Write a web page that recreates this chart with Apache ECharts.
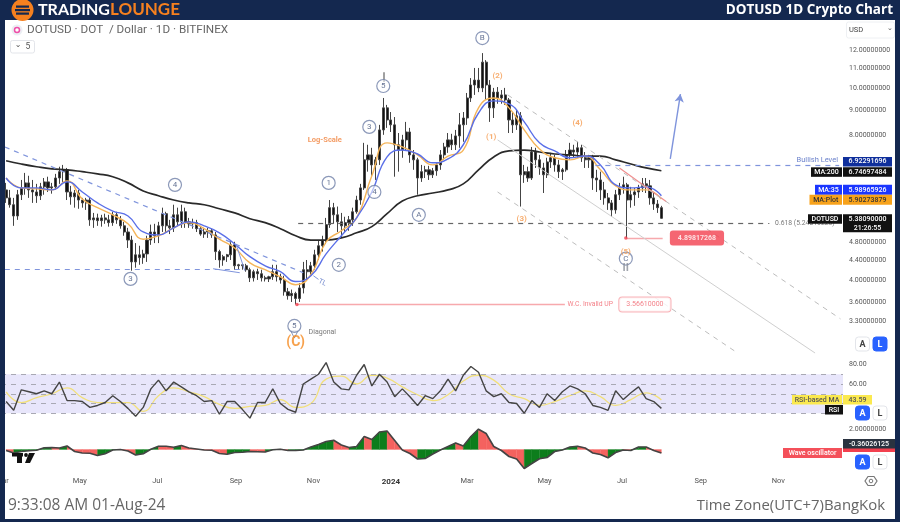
<!DOCTYPE html>
<html>
<head>
<meta charset="utf-8">
<title>DOTUSD 1D Crypto Chart</title>
<script src="https://cdn.jsdelivr.net/npm/echarts@6/dist/echarts.min.js"></script>
<style>
  html, body { margin: 0; padding: 0; background: #fff; }
  #chart { width: 900px; height: 522px; filter: blur(0.35px); }
</style>
</head>
<body>
<div id="chart"></div>
<script>
// 3-day candles, newest last: [open, high, low, close]
const candles = [
  [6.16,6.37,5.79,5.93],[5.93,6.16,5.66,5.74],[5.74,5.93,5.19,5.44],[5.44,6.16,5.34,6.02],[6.02,6.46,5.87,6.22],
  [6.22,6.68,6.02,6.37],[6.37,6.59,5.93,6.16],[6.16,6.46,5.79,6.10],[6.10,6.34,5.79,5.99],[5.99,6.37,5.87,6.25],
  [6.25,6.52,6.02,6.40],[6.40,6.56,6.10,6.22],[6.22,6.37,6.05,6.25],[6.25,6.65,6.16,6.52],[6.52,6.88,6.34,6.72],
  [6.72,6.94,6.40,6.78],[6.78,6.84,5.87,6.10],[6.10,6.28,5.74,5.96],[5.96,6.16,5.66,6.07],[6.07,6.16,5.63,5.87],
  [5.87,5.93,5.66,5.79],[5.79,5.93,5.60,5.87],[5.87,5.93,5.19,5.34],[5.34,5.52,5.14,5.39],[5.39,5.50,5.19,5.32],
  [5.32,5.47,5.17,5.39],[5.39,5.50,5.24,5.34],[5.34,5.47,5.17,5.27],[5.27,5.55,5.19,5.47],[5.47,5.55,5.24,5.34],
  [5.34,5.44,5.12,5.19],[5.19,5.29,4.95,5.04],[5.04,5.14,4.67,4.85],[4.85,4.95,4.19,4.37],[4.37,4.78,4.25,4.52],
  [4.52,4.72,4.31,4.46],[4.46,4.63,4.33,4.54],[4.54,4.95,4.37,4.85],[4.85,5.22,4.74,5.04],[5.04,5.24,4.78,4.95],
  [4.95,5.29,4.78,5.19],[5.19,5.66,5.04,5.50],[5.50,5.55,5.04,5.19],[5.19,5.34,4.99,5.14],[5.14,5.74,5.04,5.47],
  [5.47,5.66,5.19,5.29],[5.29,5.74,5.14,5.55],[5.55,5.66,5.14,5.29],[5.29,5.39,5.14,5.24],[5.24,5.37,5.12,5.27],
  [5.27,5.34,5.04,5.12],[5.12,5.19,4.95,4.99],[4.99,5.14,4.90,5.04],[5.04,5.14,4.90,5.07],[5.07,5.12,4.90,4.97],
  [4.97,5.04,4.41,4.59],[4.59,4.63,4.25,4.41],[4.41,4.52,4.29,4.48],[4.48,4.54,4.37,4.52],[4.52,4.85,4.41,4.74],
  [4.74,4.81,4.21,4.29],[4.29,4.33,4.21,4.31],[4.31,4.33,4.21,4.29],[4.29,4.33,4.17,4.21],[4.21,4.25,3.97,4.05],
  [4.05,4.21,3.98,4.17],[4.17,4.23,4.01,4.13],[4.13,4.21,3.98,4.05],[4.05,4.09,3.98,4.03],[4.03,4.09,3.97,4.07],
  [4.07,4.31,4.01,4.17],[4.17,4.31,3.98,4.07],[4.07,4.13,3.94,4.01],[4.01,4.09,3.72,3.79],[3.79,3.86,3.65,3.72],
  [3.72,3.83,3.61,3.76],[3.76,3.79,3.57,3.67],[3.67,3.95,3.61,3.86],[3.86,4.37,3.76,4.21],[4.21,4.41,4.01,4.17],
  [4.17,4.37,4.09,4.29],[4.29,4.63,4.21,4.52],[4.52,4.85,4.41,4.72],[4.72,4.95,4.59,4.85],[4.85,5.39,4.76,5.22],
  [5.22,5.87,5.14,5.66],[5.66,5.79,5.24,5.47],[5.47,5.69,5.04,5.29],[5.29,5.52,4.90,5.19],[5.19,5.42,5.04,5.27],
  [5.27,5.44,5.07,5.34],[5.34,5.66,5.19,5.55],[5.55,5.99,5.50,5.87],[5.87,6.34,5.74,6.22],[6.22,7.71,6.16,7.11],
  [7.11,7.64,6.72,7.28],[7.28,7.53,6.59,6.94],[6.94,7.21,6.46,7.11],[7.11,8.40,6.94,8.20],[8.20,9.55,8.01,9.11],
  [9.11,9.24,8.28,8.60],[8.60,8.93,8.12,8.40],[8.40,8.72,6.56,7.64],[7.64,8.08,6.72,7.45],[7.45,8.01,7.18,7.82],
  [7.82,8.52,7.45,8.12],[8.12,8.28,7.01,7.28],[7.28,7.45,6.78,7.11],[7.11,7.18,6.02,6.52],[6.52,6.94,6.40,6.72],
  [6.72,6.91,6.52,6.78],[6.78,6.91,6.46,6.62],[6.62,6.84,6.52,6.75],[6.75,7.01,6.59,6.94],[6.94,7.45,6.78,7.28],
  [7.28,7.71,7.11,7.56],[7.56,8.08,7.35,7.82],[7.82,8.05,7.45,7.64],[7.64,8.20,7.45,7.97],[7.97,8.89,7.53,8.40],
  [8.40,8.93,7.75,8.68],[8.68,9.78,8.40,9.55],[9.55,10.50,9.37,10.16],[10.16,11.02,9.69,10.40],[10.40,11.02,9.82,10.02],
  [10.02,11.83,9.82,11.33],[11.33,11.44,9.46,10.16],[10.16,10.40,8.52,9.11],[9.11,10.02,8.68,9.82],[9.82,10.06,9.29,9.55],
  [9.55,9.92,9.29,9.69],[9.69,10.02,9.24,9.46],[9.46,9.55,8.08,8.60],[8.60,8.93,8.08,8.40],[8.40,9.02,8.20,8.77],
  [8.77,8.93,5.69,6.62],[6.62,6.94,6.37,6.72],[6.72,6.88,6.40,6.52],[6.52,7.56,6.46,7.38],[7.38,7.53,6.84,7.11],
  [7.11,7.28,6.62,6.84],[6.84,7.01,6.07,6.62],[6.62,7.18,6.52,7.04],[7.04,7.35,6.84,7.18],[7.18,7.28,6.72,6.94],
  [6.94,7.11,6.52,6.72],[6.72,6.84,6.46,6.78],[6.78,7.45,6.72,7.28],[7.28,7.71,7.11,7.45],[7.45,7.64,7.18,7.38],
  [7.38,7.75,7.18,7.53],[7.53,7.64,7.04,7.18],[7.18,7.38,6.84,7.11],[7.11,7.28,6.84,7.18],[7.18,7.28,6.16,6.52],
  [6.52,6.78,6.10,6.46],[6.46,6.72,5.87,6.16],[6.16,6.40,5.74,5.93],[5.93,6.07,5.60,5.79],[5.79,5.87,5.42,5.60],
  [5.60,6.16,5.50,6.02],[6.02,6.37,5.87,6.22],[6.22,6.56,6.05,6.31],[6.31,6.37,4.898,5.87],[5.87,6.25,5.66,6.02],
  [6.02,6.22,5.71,6.10],[6.10,6.31,5.93,6.22],[6.22,6.52,6.10,6.34],[6.34,6.52,6.07,6.28],[6.28,6.46,5.74,5.93],
  [5.93,6.07,5.60,5.76],[5.76,5.87,5.52,5.66],[5.66,5.71,5.37,5.38]
];

// moving averages, one value every 12 days
const ma200 = [7.08,6.97,6.88,6.81,6.78,6.72,6.65,6.56,6.37,6.13,5.99,5.87,5.79,5.74,5.63,5.52,5.37,5.27,5.12,4.95,4.85,4.85,4.90,5.02,5.17,5.50,5.84,5.99,6.07,6.16,6.34,6.78,7.21,7.42,7.45,7.38,7.31,7.28,7.24,7.24,7.11,6.97,6.84,6.75];
const ma35 = [6.52,6.22,6.22,6.16,6.40,6.10,5.79,5.57,5.44,5.04,4.97,5.14,5.29,5.19,5.02,4.76,4.48,4.29,4.17,3.98,4.09,4.54,4.95,5.39,6.10,7.21,7.45,7.31,7.01,7.14,7.64,8.89,9.42,9.29,8.52,7.71,7.42,7.18,7.24,6.94,6.31,6.22,6.25,5.99];
const maPlot = [6.52,6.22,6.19,6.16,6.43,5.90,5.66,5.47,5.24,4.87,4.95,5.14,5.27,5.12,4.87,4.67,4.35,4.21,4.07,3.92,4.11,4.81,5.07,5.39,6.59,7.71,7.56,7.28,6.94,7.24,7.45,9.11,9.55,9.11,8.20,7.49,7.18,7.11,7.24,6.78,6.28,6.16,6.16,5.90];

// RSI and wave oscillator, one value every 6 days
const rsi = [42,33,54,52,50,53,50,62,43,43,42,36,38,41,48,42,35,27,36,55,64,53,62,57,52,48,42,43,29,42,42,34,25,41,41,55,40,34,31,
  60,65,70,82,62,55,54,69,80,58,70,62,47,55,47,38,48,45,53,65,53,69,78,72,53,47,50,41,40,30,43,36,50,43,52,58,55,50,38,
  36,33,53,44,51,57,45,42,35];
const rsiMa = [52,41,46,50,56,46,41,41,41,32,48,56,52,47,39,35,37,38,44,36,40,65,68,60,69,66,57,49,43,49,63,69,64,50,45,38,42,48,53,47,38,44,51,43.59];
const wave = [-.1,-.35,-.2,-.12,-.08,.17,.2,.15,.35,-.2,-.35,-.37,-.6,-.42,-.05,0,-.15,-.55,-.43,.03,.33,.32,.22,.4,.15,.05,-.05,-.08,-.4,-.48,-.3,-.27,-.2,-.22,-.25,-.03,.03,-.1,-.1,
  -.05,.25,.5,.8,.92,.45,.2,.3,1.3,1,1.75,1.85,.9,-.05,-.4,-.95,-.9,-.45,-.05,.3,.65,.35,1.3,2.03,1.6,.3,-.1,-.7,-.95,-1.9,-1.4,-.93,-.8,-.2,-.05,.25,.33,.15,-.35,
  -.5,-.83,-.3,-.05,-.1,.25,.25,-.1,-.36];

// the x axis counts days from 2024-01-01
const lastDay = 213; // 2024-08-01
const priceTicks = [12, 11, 10, 9, 8, 4.8, 4.4, 4, 3.6, 3.3];
const rsiTicks = [80, 60];
const waveTicks = [2];
const rsiLevels = [70, 60, 50, 40, 30];
const monthDays = [-306, -245, -184, -122, -61, 0, 60, 121, 182, 244, 305];
const monthNames = ['Mar', 'May', 'Jul', 'Sep', 'Nov', '2024', 'Mar', 'May', 'Jul', 'Sep', 'Nov'];

// elliott wave counts: day, price, text
const waveCircleDays = [-49, -41, -17, -13, -6, 72, 22, -205, -170, -76, 185];
const waveCirclePrices = [6.37, 4.31, 8.32, 6.10, 10.11, 12.71, 5.47, 4.03, 6.31, 3.22, 4.44];
const waveCircleNames = ['1', '2', '3', '4', '5', 'B', 'A', '3', '4', '5', 'C'];
const orangeDays = [79, 84, 103, 147, 185];
const orangePrices = [7.93, 10.6, 5.37, 8.48, 4.58];
const orangeNames = ['(1)', '(2)', '(3)', '(4)', '(5)'];

// drawn levels and channels: [day, price, day, price]
const trendLine = [-304, 7.56, -69, 4.15];
const supportLine = [-304, 4.21, -119, 4.21];
const triangleLines = [[-140, 4.23, -119, 4.15], [-122, 4.76, -115, 4.19]];
const tlStub = [-61, 4.09, -57, 4.02];
const fibLevel = [-73, 5.24316226, 298, 5.24316226];
const bullishLevel = [161, 6.92291696, 353, 6.92291696];
const invalidLevel = [-74, 3.5661, 137, 3.5661];
const lowLevel = [185, 4.89817268, 214, 4.89817268];
const redTrend = [180, 6.84, 217, 5.82];
const channelMid = [84, 7.82, 334, 2.83];
const channelTop = [92, 9.69, 354, 3.33];
const channelLow = [84, 6.10, 273, 2.83];
const arrowLine = [220, 7.14, 228, 9.73];
const markerBar = [-6, 10.8, -6, 10.3];

const tagNames = ['MA:200', 'MA:35', 'MA:Plot', 'DOTUSD'];
const tagValues = [6.74697484, 5.98965926, 5.90273879, 5.3809];

const daysFor = (list, step) => list.map((v, i) => lastDay - (list.length - 1 - i) * step);
const zip = (list, step) => {
  const days = daysFor(list, step);
  return list.map((v, i) => [days[i], v]);
};
const waveDays = daysFor(wave, 6);

const navy = '#14284f';
const axisGray = '#555';
const smallFont = 'Roboto, sans-serif';
const drawBlue = '#7f94dc';

const segment = (l, color, type, width, extra) => [
  { coord: [l[0], l[1]], symbol: 'none', lineStyle: { color, type: type || 'solid', width: width || 1 } },
  Object.assign({ coord: [l[2], l[3]], symbol: 'none' }, extra || {}),
];

const chart = echarts.init(document.getElementById('chart'));

const option = {
  animation: false,
  backgroundColor: '#fff',
  // the first month label hangs off the left edge on purpose, so no bounds shrinking
  grid: [
    { left: 1, width: 842, top: 22, height: 331, outerBoundsMode: 'none' },
    { left: 1, width: 842, top: 354.75, height: 66.3, outerBoundsMode: 'none' },
    { left: 1, width: 842, top: 424.5, height: 48, outerBoundsMode: 'none' },
  ],
  xAxis: [0, 1, 2].map((i) => ({
    type: 'value',
    gridIndex: i,
    min: -307,
    max: 356,
    show: i === 2,
    axisLine: { show: false },
    axisTick: { show: false },
    splitLine: { show: false },
    axisLabel: {
      show: i === 2,
      margin: 5,
      fontSize: 7.5,
      fontFamily: smallFont,
      color: '#555',
      customValues: monthDays,
      hideOverlap: false,
      showMinLabel: true,
      formatter: (v) => {
        const name = monthNames[monthDays.indexOf(v)];
        return name === '2024' ? '{b|2024}' : name;
      },
      rich: { b: { fontWeight: 'bold', fontSize: 8, color: '#333', fontFamily: smallFont } },
    },
  })),
  yAxis: [
    {
      type: 'log',
      gridIndex: 0,
      position: 'right',
      min: 2.83,
      max: 13.72,
      axisLine: { show: false },
      axisTick: { show: false },
      splitLine: { show: false },
      minorSplitLine: { show: false },
      axisLabel: {
        margin: 6,
        fontSize: 7,
        fontFamily: smallFont,
        color: axisGray,
        customValues: priceTicks,
        formatter: (v) => Number(v).toFixed(8),
      },
    },
    {
      type: 'value',
      gridIndex: 1,
      position: 'right',
      min: 22,
      max: 90,
      axisLine: { show: false },
      axisTick: { show: false },
      splitLine: { show: false },
      axisLabel: {
        margin: 6,
        fontSize: 7,
        fontFamily: smallFont,
        color: axisGray,
        customValues: rsiTicks,
        formatter: (v) => Number(v).toFixed(2),
      },
    },
    {
      type: 'value',
      gridIndex: 2,
      position: 'right',
      min: -2.3,
      max: 2.5,
      axisLine: { show: false },
      axisTick: { show: false },
      splitLine: { show: false },
      axisLabel: {
        margin: 6,
        fontSize: 7,
        fontFamily: smallFont,
        color: axisGray,
        customValues: waveTicks,
        formatter: (v) => Number(v).toFixed(8),
      },
    },
  ],
  series: [
    {
      name: 'DOTUSD',
      type: 'candlestick',
      xAxisIndex: 0,
      yAxisIndex: 0,
      barWidth: 2.6,
      encode: { x: 0, y: [1, 2, 3, 4] },
      itemStyle: { color: '#111', color0: '#111', borderColor: '#444', borderColor0: '#444', borderWidth: 1 },
      data: candles.map((c, i) => [daysFor(candles, 3)[i], c[0], c[3], c[2], c[1]]),
      z: 3,
    },
    { name: 'MA:200', type: 'line', xAxisIndex: 0, yAxisIndex: 0, data: zip(ma200, 12), smooth: true, showSymbol: false, lineStyle: { color: '#2a2a2a', width: 1.7 }, z: 4 },
    { name: 'MA:Plot', type: 'line', xAxisIndex: 0, yAxisIndex: 0, data: zip(maPlot, 12), smooth: true, showSymbol: false, lineStyle: { color: '#f5b55a', width: 1.4 }, z: 4 },
    { name: 'MA:35', type: 'line', xAxisIndex: 0, yAxisIndex: 0, data: zip(ma35, 12), smooth: true, showSymbol: false, lineStyle: { color: '#5a6fe8', width: 1.4 }, z: 4 },
    {
      name: 'drawings',
      type: 'line',
      xAxisIndex: 0,
      yAxisIndex: 0,
      data: [],
      markLine: {
        silent: true,
        animation: false,
        label: { show: false },
        data: [
          segment(trendLine, drawBlue, [5, 5], 1.2),
          segment(supportLine, drawBlue, [5, 5], 1.2),
          segment(triangleLines[0], drawBlue),
          segment(triangleLines[1], drawBlue),
          segment(tlStub, drawBlue),
          segment(fibLevel, '#666', [5, 5], 1.2),
          segment(bullishLevel, drawBlue, [5, 5], 1.2),
          segment(invalidLevel, '#f7a9ad', 'solid', 1.4),
          segment(lowLevel, '#f7a9ad', 'solid', 1.4),
          segment(redTrend, '#f08f8f', 'solid', 1.2),
          segment(channelMid, '#cfcfcf'),
          segment(channelTop, '#bdbdbd', [5, 5]),
          segment(channelLow, '#bdbdbd', [5, 5]),
          segment(markerBar, '#a0a0a0', 'solid', 2),
          segment(arrowLine, drawBlue, 'solid', 1.4, { symbol: 'arrow', symbolSize: [7, 8] }),
        ],
      },
      z: 5,
    },
    {
      name: 'lows',
      type: 'scatter',
      xAxisIndex: 0,
      yAxisIndex: 0,
      symbolSize: 3.5,
      itemStyle: { color: '#f2404f' },
      data: [[invalidLevel[0], invalidLevel[1]], [lowLevel[0], lowLevel[1]]],
      z: 6,
    },
    {
      name: 'wave counts',
      type: 'scatter',
      xAxisIndex: 0,
      yAxisIndex: 0,
      symbolSize: 13,
      itemStyle: { color: 'rgba(255,255,255,0.7)', borderColor: '#6f80a8', borderWidth: 1.2 },
      label: { show: true, position: 'inside', fontSize: 8, color: '#3f5079', fontFamily: smallFont, formatter: (p) => waveCircleNames[p.dataIndex] },
      data: waveCircleDays.map((d, i) => [d, waveCirclePrices[i]]),
      z: 7,
    },
    {
      name: 'pin',
      type: 'scatter',
      xAxisIndex: 0,
      yAxisIndex: 0,
      symbol: 'triangle',
      symbolRotate: 180,
      symbolSize: [7, 7],
      itemStyle: { color: '#fff', borderColor: '#6f80a8', borderWidth: 1 },
      data: [[waveCircleDays[9], 3.09]],
      z: 6,
    },
    {
      name: 'wave subcounts',
      type: 'scatter',
      xAxisIndex: 0,
      yAxisIndex: 0,
      symbolSize: 0,
      label: { show: true, position: 'inside', fontSize: 8, fontWeight: 'bold', color: '#f59a4e', fontFamily: smallFont, formatter: (p) => orangeNames[p.dataIndex] },
      data: orangeDays.map((d, i) => [d, orangePrices[i]]),
      z: 7,
    },
    {
      name: 'notes',
      type: 'scatter',
      xAxisIndex: 0,
      yAxisIndex: 0,
      symbolSize: 0,
      label: { show: true, position: 'inside', fontFamily: smallFont },
      data: [
        { value: [-52, 7.82], label: { formatter: 'Log-Scale', fontSize: 7.5, fontWeight: 'bold', color: '#f0823c' } },
        { value: [-54, 3.12], label: { formatter: 'Diagonal', fontSize: 7, color: '#555' } },
        { value: [-75, 2.97], label: { formatter: '(C)', fontSize: 14, fontWeight: 'bold', color: '#f58a1f' } },
        { value: [185, 4.23], label: { formatter: 'II', fontSize: 11, fontWeight: 'bold', color: '#8a8f99' } },
        { value: [-54, 3.96], label: { formatter: 'TL', fontSize: 7, color: '#4e6ac0', rotate: -25 } },
        { value: [157, invalidLevel[1]], label: { formatter: 'W.C. Invalid UP', fontSize: 6.8, color: '#f0606a' } },
        { value: [326, fibLevel[1]], label: { formatter: '0.618 (5.24316226)', fontSize: 6.8, color: '#555' } },
        { value: [200, invalidLevel[1]], label: { formatter: invalidLevel[1].toFixed(8), fontSize: 7, color: '#f0606a', backgroundColor: '#fff', borderColor: '#f7a0a6', borderWidth: 1, borderRadius: 3, padding: [3.5, 7] } },
        { value: [241, lowLevel[1]], label: { formatter: lowLevel[1].toFixed(8), fontSize: 7, fontWeight: 'bold', color: '#fff', backgroundColor: '#f2404f', borderRadius: 3, padding: [4, 8] } },
      ],
      z: 8,
    },
    {
      name: 'RSI-based MA',
      type: 'line',
      xAxisIndex: 1,
      yAxisIndex: 1,
      data: zip(rsiMa, 12),
      smooth: true,
      showSymbol: false,
      lineStyle: { color: '#f2e07a', width: 1.3 },
      z: 4,
    },
    {
      name: 'RSI',
      type: 'line',
      xAxisIndex: 1,
      yAxisIndex: 1,
      data: zip(rsi, 6),
      showSymbol: false,
      lineStyle: { color: '#444', width: 1.4 },
      z: 5,
      markArea: {
        silent: true,
        itemStyle: { color: '#e8e6fb' },
        data: [[{ yAxis: rsiLevels[0] }, { yAxis: rsiLevels[4] }]],
      },
      markLine: {
        silent: true,
        symbol: 'none',
        label: { show: false },
        lineStyle: { color: '#a9a9b4', type: [5, 5], width: 1 },
        data: rsiLevels.map((v) => ({ yAxis: v })),
      },
    },
    {
      name: 'Wave oscillator fill',
      type: 'custom',
      xAxisIndex: 2,
      yAxisIndex: 2,
      encode: { x: 0, y: 1 },
      data: zip(wave, 6),
      // green while the oscillator climbs, red while it falls
      renderItem: (params, api) => {
        const i = params.dataIndex;
        if (i === 0) return null;
        const color = wave[i] < wave[i - 1] ? '#f4625f' : '#0d7d1c';
        return {
          type: 'polygon',
          shape: {
            points: [
              api.coord([waveDays[i - 1], 0]),
              api.coord([waveDays[i - 1], wave[i - 1]]),
              api.coord([waveDays[i], wave[i]]),
              api.coord([waveDays[i], 0]),
            ],
          },
          style: { fill: color, stroke: color, lineWidth: 0.3 },
        };
      },
      z: 3,
    },
    {
      name: 'Wave oscillator',
      type: 'line',
      xAxisIndex: 2,
      yAxisIndex: 2,
      data: zip(wave, 6),
      showSymbol: false,
      lineStyle: { color: '#444', width: 1.6 },
      z: 4,
    },
  ],
};

chart.setOption(option);

// text and boxes that sit around the panes
const txt = (text, x, y, font, fill, align, z) => ({
  type: 'text',
  z: z || 110,
  style: { text, x, y, font, fill, textAlign: align || 'left', textVerticalAlign: 'middle' },
});
const box = (x, y, w, h, fill, extra, z) => ({
  type: 'rect',
  z: z || 105,
  shape: { x, y, width: w, height: h, r: (extra && extra.r) || 0 },
  style: { fill, stroke: (extra && extra.stroke) || null, lineWidth: 1 },
});
const tagFont = '500 7px Roboto, sans-serif';
const tag = (x, y, w, h, fill, color, text) => [box(x, y, w, h, fill), txt(text, x + w / 2, y + h / 2, tagFont, color, 'center')];
const toY = (v) => chart.convertToPixel({ yAxisIndex: 0 }, v);
const button = (x, y, label, active) => [
  box(x, y, 14, 14, active ? '#2962ff' : '#fff', { r: 3, stroke: active ? '#2962ff' : '#e3e5ea' }),
  txt(label, x + 7, y + 7.5, 'bold 9px Roboto, sans-serif', active ? '#fff' : '#444', 'center'),
];

const graphics = [
  // frame
  box(0, 0, 900, 20, navy),
  box(0, 0, 5, 522, navy),
  box(895, 0, 5, 522, navy),
  box(0, 519, 900, 3, navy),
  { type: 'circle', z: 111, shape: { cx: 22.5, cy: 10, r: 11 }, style: { fill: '#f5801f' } },
  box(16, 5.5, 13, 2.2, navy, null, 112),
  box(15, 9, 15, 2.2, navy, null, 112),
  box(16, 12.5, 13, 2.2, navy, null, 112),
  txt('TRADING', 38, 10, 'bold 16px Lato, sans-serif', '#fff'),
  txt('LOUNGE', 110, 10, 'bold 17px Lato, sans-serif', '#f5801f'),
  txt('DOTUSD 1D Crypto Chart', 893, 10.5, 'bold 13.5px "Open Sans", sans-serif', '#fff', 'right'),

  // legend
  { type: 'circle', z: 110, shape: { cx: 17, cy: 30, r: 5.5 }, style: { fill: '#eceef3' } },
  { type: 'circle', z: 111, shape: { cx: 17, cy: 30, r: 2.5 }, style: { fill: '#fff', stroke: '#ee4fa8', lineWidth: 1.5 } },
  txt('DOTUSD · DOT  / Dollar · 1D · BITFINEX', 27, 30.5, '11.7px Roboto, sans-serif', '#666'),
  box(10.5, 40.5, 24, 12.5, '#fff', { r: 2, stroke: '#e3e5ea' }),
  txt('⌄', 18, 44.5, '8px "DejaVu Sans", sans-serif', '#555', 'center'),
  txt('5', 28, 46.5, '8.5px Roboto, sans-serif', '#555', 'center'),

  // currency selector
  box(846.5, 22, 48, 16, '#fff', { r: 2, stroke: '#eef0f3' }),
  txt('USD', 849, 30.5, '7.5px Roboto, sans-serif', '#444'),
  txt('⌄', 890, 28.5, '7px "DejaVu Sans", sans-serif', '#555', 'center'),

  // price tags hanging off the axis
  txt('Bullish Level', 838, toY(bullishLevel[1]) - 5.5, '7.5px Roboto, sans-serif', '#6d83cc', 'right'),
  ...tag(843, toY(bullishLevel[1]) - 8.5, 49, 9.5, '#0f2f9c', '#fff', bullishLevel[1].toFixed(8)),
  ...tag(811, toY(tagValues[0]) - 3.5, 31, 9.5, '#111', '#fff', tagNames[0]),
  ...tag(843, toY(tagValues[0]) - 3.5, 49, 9.5, '#111', '#fff', tagValues[0].toFixed(8)),
  ...tag(815, toY(tagValues[1]) - 11, 27, 10, '#1a35ff', '#fff', tagNames[1]),
  ...tag(843, toY(tagValues[1]) - 11, 49, 10, '#1a35ff', '#fff', tagValues[1].toFixed(8)),
  ...tag(809.5, toY(tagValues[2]) - 4, 32.5, 10, '#f7a21b', '#333', tagNames[2]),
  ...tag(843, toY(tagValues[2]) - 4, 49, 10, '#f7a21b', '#333', tagValues[2].toFixed(8)),
  ...tag(808, toY(tagValues[3]) - 4, 34, 9.5, '#111', '#fff', tagNames[3]),
  box(843, toY(tagValues[3]) - 4, 49, 18, '#111'),
  txt(tagValues[3].toFixed(8), 867.5, toY(tagValues[3]) + 1, tagFont, '#fff', 'center'),
  txt('21:26:55', 867.5, toY(tagValues[3]) + 9.5, tagFont, '#fff', 'center'),

  // rsi and oscillator tags
  ...tag(792, 395, 50, 9.5, '#fbe94f', '#555', 'RSI-based MA'),
  ...tag(843, 395, 29, 9.5, '#fbe94f', '#555', '43.59'),
  ...tag(825, 405, 18, 9.5, '#111', '#fff', 'RSI'),
  box(843, 448, 52, 4, '#f2404f'),
  ...tag(843, 439, 52, 9.5, '#2a3340', '#fff', '-0.36026125'),
  ...tag(783, 448, 59, 10, '#f4505a', '#fff', 'Wave oscillator'),

  // scale buttons
  ...button(855.5, 337, 'A', false),
  ...button(873, 337, 'L', true),
  ...button(855.5, 406, 'A', true),
  ...button(873, 406, 'L', false),
  ...button(855.5, 455, 'A', true),
  ...button(873, 455, 'L', false),

  // tradingview mark
  box(12, 453, 11, 3.5, '#111'),
  box(17, 453, 5, 10, '#111'),
  { type: 'circle', z: 106, shape: { cx: 26, cy: 455, r: 1.9 }, style: { fill: '#111' } },
  { type: 'polygon', z: 106, shape: { points: [[29, 453], [35, 453], [30, 463], [25, 463]] }, style: { fill: '#111' } },

  // settings eye
  { type: 'polygon', z: 106, shape: { points: [[865, 481], [868, 476.5], [874, 476.5], [877, 481], [874, 485.5], [868, 485.5]] }, style: { fill: '#fff', stroke: '#777', lineWidth: 1.2 } },
  { type: 'circle', z: 106, shape: { cx: 871, cy: 481, r: 1.8 }, style: { fill: '#fff', stroke: '#777', lineWidth: 1 } },

  // footer
  txt('9:33:08 AM 01-Aug-24', 8, 505.5, '15.5px "Open Sans", sans-serif', '#666'),
  txt('Time Zone(UTC+7)BangKok', 885, 505.5, '14.9px "Open Sans", sans-serif', '#666', 'right'),
];

chart.setOption({ graphic: graphics });
</script>
</body>
</html>
